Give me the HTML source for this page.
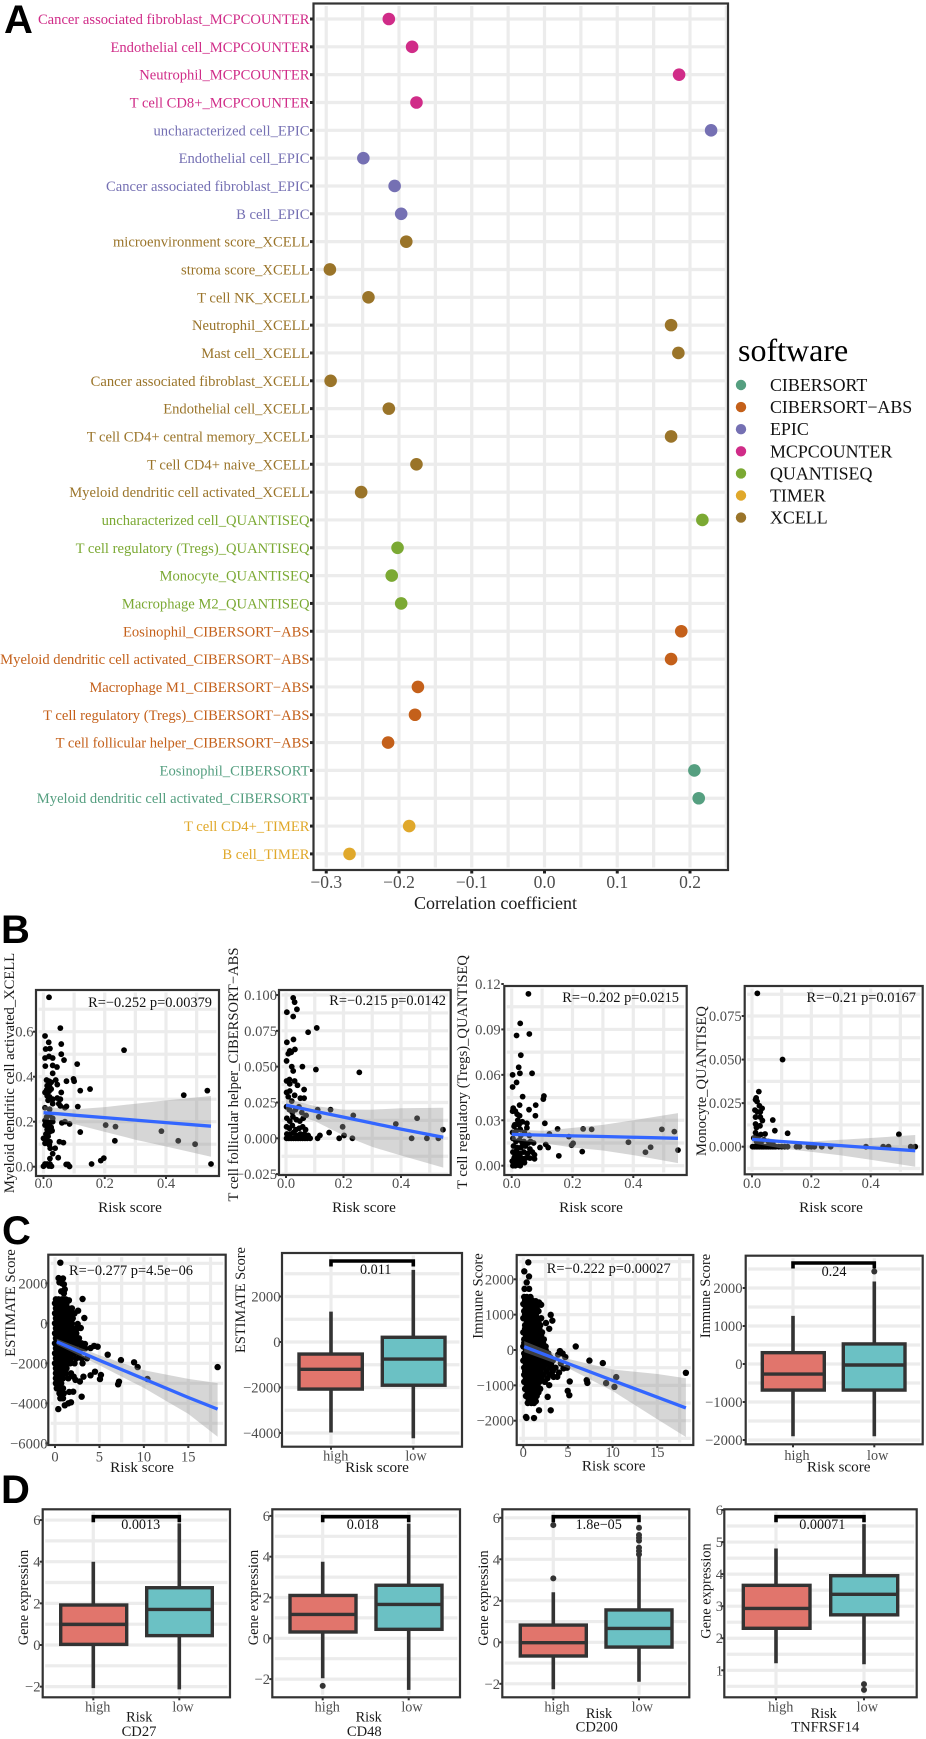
<!DOCTYPE html>
<html lang="en">
<head>
<meta charset="utf-8">
<title>Immune correlation figure</title>
<style>
html,body{margin:0;padding:0;background:#fff;}
svg{display:block;font-family:"Liberation Serif",serif;}
</style>
</head>
<body>
<svg id="fig" xmlns="http://www.w3.org/2000/svg" width="926" height="1739" viewBox="0 0 926 1739">
<rect width="926" height="1739" fill="#fff"/>
<text x="4" y="33" font-family="Liberation Sans, sans-serif" font-weight="700" font-size="40">A</text>
<text x="1" y="943" font-family="Liberation Sans, sans-serif" font-weight="700" font-size="40">B</text>
<text x="2" y="1244" font-family="Liberation Sans, sans-serif" font-weight="700" font-size="40">C</text>
<text x="1" y="1503" font-family="Liberation Sans, sans-serif" font-weight="700" font-size="40">D</text>
</svg>
<script>
/* ---------- Panel A data ---------- */
const softwareNames = ['CIBERSORT','CIBERSORT−ABS','EPIC','MCPCOUNTER','QUANTISEQ','TIMER','XCELL'];
const softwareColors = ['#559f80','#c4601a','#7570b3','#d02c88','#7ba933','#e0a82b','#9a7429'];
const cellLabels = [
'Cancer associated fibroblast_MCPCOUNTER','Endothelial cell_MCPCOUNTER','Neutrophil_MCPCOUNTER','T cell CD8+_MCPCOUNTER',
'uncharacterized cell_EPIC','Endothelial cell_EPIC','Cancer associated fibroblast_EPIC','B cell_EPIC',
'microenvironment score_XCELL','stroma score_XCELL','T cell NK_XCELL','Neutrophil_XCELL','Mast cell_XCELL',
'Cancer associated fibroblast_XCELL','Endothelial cell_XCELL','T cell CD4+ central memory_XCELL','T cell CD4+ naive_XCELL',
'Myeloid dendritic cell activated_XCELL','uncharacterized cell_QUANTISEQ','T cell regulatory (Tregs)_QUANTISEQ','Monocyte_QUANTISEQ',
'Macrophage M2_QUANTISEQ','Eosinophil_CIBERSORT−ABS','Myeloid dendritic cell activated_CIBERSORT−ABS','Macrophage M1_CIBERSORT−ABS',
'T cell regulatory (Tregs)_CIBERSORT−ABS','T cell follicular helper_CIBERSORT−ABS','Eosinophil_CIBERSORT',
'Myeloid dendritic cell activated_CIBERSORT','T cell CD4+_TIMER','B cell_TIMER'];
const cellSoftware = [3,3,3,3,2,2,2,2,6,6,6,6,6,6,6,6,6,6,4,4,4,4,1,1,1,1,1,0,0,5,5];
const cellCorrelation = [-0.214,-0.182,0.185,-0.176,0.229,-0.249,-0.206,-0.197,-0.19,-0.295,-0.242,0.174,0.184,-0.294,-0.214,0.174,-0.176,-0.252,0.217,-0.202,-0.21,-0.197,0.188,0.174,-0.174,-0.178,-0.215,0.206,0.212,-0.186,-0.268];
const corrTicks = [-0.3,-0.2,-0.1,0,0.1,0.2];

/* ---------- Panel B data ---------- */
const myeloidPoints = [[.018,.753],[.055,.616],[.005,.581],[.017,.553],[.058,.545],[.007,.523],[.021,.525],[.058,.5],[.005,.483],[.018,.49],[.03,.483],[.067,.474],[.11,.456],[.006,.447],[.03,.45],[.044,.443],[.03,.415],[.263,.518],[.098,.39],[.1,.38],[.075,.38],[.12,.338],[.152,.345],[.458,.318],[.535,.338],[.01,.385],[.018,.38],[.025,.375],[.04,.385],[.045,.365],[.012,.36],[.02,.355],[.01,.34],[.018,.335],[.025,.345],[.005,.33],[.058,.33],[.012,.315],[.02,.31],[.015,.295],[.03,.3],[.045,.305],[.055,.3],[.03,.28],[.05,.28],[.055,.27],[.005,.262],[.075,.268],[.112,.267],[.07,.262],[.02,.255],[.005,.205],[.012,.2],[.02,.195],[.03,.2],[.005,.185],[.015,.18],[.025,.175],[.06,.195],[.07,.2],[.085,.19],[.203,.185],[.235,.178],[.385,.158],[.44,.115],[.495,.1],[.233,.115],[.12,.154],[.02,.155],[.015,.135],[0,.126],[.01,.119],[.021,.111],[.005,.104],[.019,.097],[.022,.082],[.052,.111],[.065,.107],[.038,.082],[.03,.058],[.021,.036],[.048,.04],[.005,.012],[.021,.012],[.026,.002],[0,.002],[.074,.01],[.085,.001],[.08,.01],[.157,.012],[.187,.027],[.197,.038],[.547,.012],[.01,.22],[.02,.23],[.03,.215],[.012,.165],[.028,.16],[.008,.145],[.012,.012],[.018,.003]];
const tfhPoints = [[.025,.098],[.03,.095],[.038,.09],[.003,.088],[.025,.085],[.077,.074],[.107,.077],[.026,.069],[.003,.067],[.013,.061],[.008,.059],[.031,.062],[.002,.054],[.018,.06],[.057,.05],[.02,.05],[.025,.047],[.104,.048],[.255,.046],[.012,.041],[.002,.04],[.013,.038],[.03,.04],[.04,.037],[.063,.034],[.013,.033],[.002,.032],[.03,.03],[.02,.026],[.008,.029],[.05,.028],[.063,.028],[.11,.02],[.155,.02],[.234,.016],[.456,.014],[.382,.01],[.114,.015],[.197,.008],[.546,.006],[.437,0],[.49,0],[.53,0],[.202,.002],[.185,0],[.231,0],[.15,.004],[.118,.002],[.11,0],[.077,.002],[.002,.022],[.012,.02],[.022,.018],[.033,.02],[.045,.022],[.055,.018],[.003,.014],[.013,.012],[.024,.015],[.036,.013],[.048,.012],[.06,.014],[.07,.016],[.002,.008],[.012,.007],[.022,.009],[.034,.006],[.046,.007],[.058,.008],[.068,.006],[.003,.003],[.014,.003],[.026,.004],[.038,.002],[.05,.003],[.064,.003],[.002,0],[.01,0],[.018,0],[.026,0],[.034,0],[.042,0],[.05,0],[.058,0],[.066,0],[.074,0],[.084,0]];
const tregPoints = [[.055,.1135],[.028,.094],[.016,.086],[.058,.087],[.03,.073],[.023,.065],[.027,.061],[.003,.06],[.067,.061],[.016,.055],[.003,.052],[.036,.0456],[.106,.046],[.104,.044],[.026,.04],[.079,.04],[.057,.037],[.005,.038],[.012,.036],[.018,.034],[.003,.036],[.026,.033],[.078,.033],[.02,.03],[.035,.029],[.05,.028],[.008,.026],[.024,.027],[.109,.028],[.151,.0243],[.235,.0243],[.263,.024],[.494,.024],[.535,.0225],[.124,.021],[.188,.0192],[.202,.0148],[.197,.0135],[.112,.014],[.12,.012],[.384,.0155],[.457,.0122],[.44,.0089],[.547,.0103],[.232,.0093],[.155,.0065],[.093,.012],[.075,.0072],[.075,.0045],[.003,.022],[.015,.023],[.028,.024],[.042,.022],[.058,.02],[.004,.018],[.014,.016],[.026,.017],[.04,.016],[.062,.016],[.072,.015],[.006,.013],[.018,.012],[.03,.012],[.045,.013],[.06,.011],[.004,.009],[.015,.008],[.028,.008],[.04,.009],[.052,.008],[.068,.009],[.008,.005],[.02,.005],[.033,.005],[.046,.005],[.002,.003],[.012,.002],[.024,.002],[.036,.003],[.004,0],[.012,0],[.02,.0005],[.028,0],[.01,.027],[.03,.02],[.05,.025],[.016,.01],[.035,.015],[.055,.015],[.01,.006],[.024,.006],[.042,.002],[.06,.005]];
const monocytePoints = [[.018,.088],[.103,.05],[.023,.0316],[.014,.028],[.012,.027],[.017,.026],[.025,.0235],[.07,.0153],[.01,.021],[.018,.02],[.028,.02],[.034,.022],[.012,.017],[.028,.017],[.035,.015],[.012,.013],[.015,.011],[.027,.012],[.077,.0092],[.12,.0077],[.495,.0071],[.044,.0073],[.03,.007],[.012,.008],[.022,.006],[.006,.005],[.04,.004],[.055,.003],[.07,.002],[.015,.003],[.03,.002],[.002,0],[.008,0],[.014,0],[.02,0],[.026,0],[.032,0],[.038,0],[.044,0],[.05,0],[.056,0],[.062,0],[.068,0],[.074,0],[.08,0],[.09,0],[.1,0],[.11,0],[.12,0],[.15,0],[.16,0],[.19,0],[.2,0],[.21,0],[.235,0],[.265,0],[.384,0],[.442,0],[.46,0],[.535,0],[.55,0]];
const myeloidFitX=[0,.05,.1,.2,.3,.4,.547], myeloidFit=[.24,.235,.229,.218,.207,.196,.18], myeloidLow=[.21,.205,.19,.155,.12,.09,.044], myeloidHigh=[.27,.26,.255,.265,.28,.295,.314];
const tfhFitX=[0,.1,.2,.3,.4,.547], tfhFit=[.0232,.0189,.0148,.0106,.0064,.0007], tfhLow=[.019,.012,.002,-.006,-.012,-.0205], tfhHigh=[.0275,.0225,.02,.02,.021,.0213];
const tregFitX=[0,.1,.2,.3,.4,.547], tregFit=[.0207,.0202,.0197,.0193,.0188,.0181], tregLow=[.017,.015,.012,.01,.007,.0017], tregHigh=[.024,.023,.025,.027,.03,.0347];
const monoFitX=[0,.1,.2,.3,.4,.55], monoFit=[.0042,.003,.0018,.0006,-.0006,-.0023], monoLow=[.002,-.001,-.003,-.005,-.0075,-.0115], monoHigh=[.0065,.0035,.003,.004,.005,.0067];

/* ---------- Panel C data ---------- */
const estimatePoints = [[.6,3030],[.4,2260],[.7,2200],[.9,2240],[.5,2050],[1,1950],[.8,2000],[1.1,1700],[.7,1600],[1,1500],[.1,1200],[.4,1200],[.8,1200],[1.2,1200],[1.57,1150],[3.1,1215],[0,1000],[.3,1000],[.6,1000],[.9,1000],[1.3,1000],[.1,750],[.4,750],[.8,750],[1.1,750],[1.5,750],[1.9,750],[0,500],[.3,500],[.7,500],[1,500],[1.4,500],[1.8,500],[2.2,500],[2.6,630],[3.3,265],[2.55,-35],[2.9,-235],[.1,250],[.5,250],[.9,250],[1.3,250],[1.7,250],[2,250],[0,0],[.3,0],[.7,0],[1.1,0],[1.5,0],[1.9,0],[.1,-250],[.5,-250],[.9,-250],[1.3,-250],[1.7,-250],[2.1,-250],[2.5,-250],[0,-500],[.3,-500],[.7,-500],[1.1,-500],[1.5,-500],[2,-500],[2.4,-500],[.1,-750],[.5,-750],[.9,-750],[1.3,-750],[1.7,-750],[2.2,-750],[2.7,-750],[0,-1000],[.4,-1000],[.8,-1000],[1.2,-1000],[1.6,-1000],[2,-1000],[2.5,-1000],[3,-1000],[.1,-1250],[.5,-1250],[.9,-1250],[1.3,-1250],[1.8,-1250],[2.3,-1250],[2.9,-1250],[3.4,-1250],[0,-1500],[.3,-1500],[.7,-1500],[1.1,-1500],[1.6,-1500],[2.1,-1500],[2.7,-1500],[.1,-1750],[.5,-1750],[.9,-1750],[1.3,-1750],[1.8,-1750],[2.4,-1750],[3,-1750],[3.6,-1750],[0,-2000],[.4,-2000],[.8,-2000],[1.2,-2000],[1.7,-2000],[2.2,-2000],[3.1,-2000],[.1,-2250],[.5,-2250],[.9,-2250],[1.3,-2250],[.1,-2500],[.4,-2500],[.8,-2500],[1.2,-2500],[1.8,-2500],[.1,-2750],[.5,-2750],[.9,-2750],[1.5,-2750],[.1,-3000],[.4,-3000],[.7,-3000],[.2,-3250],[.6,-3250],[.9,-3250],[.5,-3500],[.8,-3500],[1,-3500],[.6,-3750],[.9,-3750],[3.37,-1035],[4.8,-1170],[4,-1240],[4.4,-1130],[5.93,-1570],[7.42,-1840],[8.9,-1950],[9.3,-2190],[18.3,-2190],[10.4,-2785],[7.2,-2920],[7.1,-3050],[5.17,-2585],[5.06,-2790],[4.5,-2420],[4,-2600],[3.2,-2670],[3,-3670],[2.8,-2910],[2.1,-2670],[2.3,-2830],[1.5,-4000],[1.8,-3950],[1.1,-4100],[.37,-4290],[2.05,-3420],[1.6,-3430]];
const immunePoints = [[.56,2480],[.11,2225],[.64,2080],[.38,1910],[.14,1730],[.65,1730],[3.07,995],[3.25,830],[2.54,765],[2.9,600],[5.87,100],[.1,1500],[.4,1500],[.8,1500],[.2,1400],[.6,1400],[1,1400],[1.4,1380],[0,1300],[.3,1300],[.7,1300],[1.2,1300],[1.76,1345],[2,1280],[.1,1100],[.5,1100],[.9,1100],[1.3,1100],[1.7,1100],[0,900],[.4,900],[.8,900],[1.2,900],[1.6,900],[2,900],[.2,700],[.6,700],[1,700],[1.4,700],[1.9,700],[0,500],[.4,500],[.8,500],[1.2,500],[1.6,500],[2.1,500],[.1,300],[.5,300],[.9,300],[1.3,300],[1.8,300],[2.3,300],[0,100],[.3,100],[.7,100],[1.1,100],[1.5,100],[2,100],[2.5,100],[.1,-100],[.5,-100],[.9,-100],[1.3,-100],[1.7,-100],[2.2,-100],[2.8,-100],[0,-300],[.4,-300],[.8,-300],[1.2,-300],[1.6,-300],[2.1,-300],[2.7,-300],[3.3,-300],[.1,-500],[.5,-500],[.9,-500],[1.3,-500],[1.7,-500],[2.3,-500],[3,-500],[3.6,-500],[.1,-700],[.4,-700],[.8,-700],[1.2,-700],[1.6,-700],[2.2,-700],[2.9,-700],[.1,-900],[.5,-900],[.9,-900],[1.3,-900],[1.8,-900],[2.4,-900],[.2,-1100],[.6,-1100],[1,-1100],[1.4,-1100],[1.9,-1100],[.3,-1300],[.7,-1300],[1.1,-1300],[1.5,-1300],[.5,-1500],[.9,-1500],[1.2,-1500],[4.1,-30],[7.4,-300],[8.9,-370],[18.2,-645],[10.4,-767],[7.1,-852],[7.17,-930],[9.27,-937],[10.2,-1042],[5.2,-890],[4.97,-1157],[5.15,-1278],[2.73,-1326],[3.07,-1705],[1.76,-1705],[1.2,-1924],[.3,-1895],[.36,-1920],[3.8,-758],[2.9,-994],[4.4,-100],[4.7,-200],[3.9,-130],[4.2,-380],[4.9,-500],[4.5,-520],[4,-640],[3.4,-760],[.3,1200],[.7,1200],[1.1,1200],[1.5,1190],[.2,1000],[.6,1000],[1,1000],[1.4,1000],[.4,800],[.8,800],[1.2,800],[1.7,800],[.2,600],[.6,600],[1,600],[1.4,600],[1.8,600],[.3,400],[.7,400],[1.1,400],[1.5,400],[2,400],[.1,200],[.5,200],[.9,200],[1.3,200],[1.7,200],[2.2,200],[.3,0],[.7,0],[1.1,0],[1.5,0],[2,0],[2.5,0],[.2,-200],[.6,-200],[1,-200],[1.4,-200],[1.9,-200],[2.4,-200],[3,-200],[.3,-400],[.7,-400],[1.1,-400],[1.5,-400],[2,-400],[2.5,-400],[3.1,-400],[.2,-600],[.6,-600],[1,-600],[1.4,-600],[1.9,-600],[2.6,-600],[3.3,-600],[.3,-800],[.7,-800],[1.1,-800],[1.5,-800],[2,-800],[2.7,-800],[.4,-1000],[.8,-1000],[1.2,-1000],[1.6,-1000],[.5,-1200],[.9,-1200],[1.3,-1200],[1.7,-1200],[.6,-1400],[1,-1400],[1.4,-1450]];
const estimateFitX=[.2,5,10,15,18.3], estimateFit=[-920,-1850,-2780,-3710,-4290], estimateLow=[-1070,-2100,-3230,-4530,-5670], estimateHigh=[-770,-1600,-2350,-2780,-2990];
const immuneFitX=[.1,5,10,15,18.2], immuneFit=[94,-382,-860,-1335,-1640], immuneLow=[-60,-510,-1160,-1960,-2460], immuneHigh=[250,-250,-550,-680,-800];
/* box stats: [whisker low, q1, median, q3, whisker high] */
const estimateHighBox=[-3980,-2070,-1200,-530,1335], estimateLowBox=[-4230,-1900,-750,207,3170];
const immuneHighBox=[-1900,-686,-264,298,1266], immuneLowBox=[-1900,-686,-26,528,2170];
const immuneLowOutliers=[2435];

/* ---------- Panel D data ---------- */
const cd27HighBox=[-2.07,.03,.99,1.92,4], cd27LowBox=[-2.13,.45,1.71,2.75,5.84];
const cd48HighBox=[-1.96,.31,1.17,2.1,3.75], cd48LowBox=[-2.53,.44,1.66,2.6,5.62];
const cd48HighOutliers=[-2.33];
const cd200HighBox=[-2.26,-.66,-.02,.83,2.41], cd200LowBox=[-1.9,-.23,.67,1.56,4.13];
const cd200HighOutliers=[5.65,3.08], cd200LowOutliers=[5.52,5.17,5.04,4.9,4.56,4.4,4.24];
const tnfHighBox=[1.22,2.31,2.93,3.65,4.8], tnfLowBox=[1.19,2.73,3.37,3.95,5.56];
const tnfLowOutliers=[.57,.39];

/* ---------- helpers ---------- */
const svg = document.getElementById('fig');
const NS = 'http://www.w3.org/2000/svg';
function add(tag, attrs, parent){
  const n = document.createElementNS(NS, tag);
  for (const k in attrs) n.setAttribute(k, attrs[k]);
  parent.appendChild(n);
  return n;
}
function linear(d0,d1,r0,r1){ return v => r0 + (v-d0)*(r1-r0)/(d1-d0); }
function label(parent, x, y, str, size, fill, anchor, rot){
  const attrs = {x:x, y:y, 'font-size':size, fill:fill, 'text-anchor':anchor||'middle'};
  if (rot) attrs.transform = 'rotate(-90 '+x+' '+y+')';
  const t = add('text', attrs, parent);
  t.textContent = str;
  return t;
}
const GRID='#ececec', FRAME='#333', TICKTXT='#4d4d4d', TXT='#1a1a1a';
function seq(a,b,s){ const o=[]; const n=Math.round((b-a)/s); for(let i=0;i<=n;i++) o.push(a+i*s); return o; }

function drawFrame(g,f){
  const r = add('rect',{x:f.l,y:f.t,width:f.r-f.l,height:f.b-f.t,fill:'none',stroke:FRAME,'stroke-width':2.2},g);
  
  
}
function drawGrid(g,f,xs,ys,sx,sy){
  const inset=2.5;
  xs.forEach(v=>{
    const l=add('line',{x1:sx(v),x2:sx(v),y1:f.t+inset,y2:f.b-inset,stroke:GRID,'stroke-width':3.2},g);
    
    
  });
  ys.forEach(v=>{
    const l=add('line',{x1:f.l+inset,x2:f.r-inset,y1:sy(v),y2:sy(v),stroke:GRID,'stroke-width':3.2},g);
    
    
  });
}
function yTicks(g,f,vals,fmt,sy,anchorX,size){
  vals.forEach(v=>{
    const m=add('rect',{x:f.l-3,y:sy(v)-1,width:2.5,height:2,fill:'#333'},g);
    
    
    const t=label(g,anchorX,sy(v)+5,fmt(v),size||14.6,TICKTXT,'end');
    
    
  });
}
function minus(s){ return String(s).replace('-','−'); }

/* ---------- Panel A ---------- */
(function(){
  const g=add('g',{},svg);
  
  
  const f={l:313.5,r:728,t:3.5,b:870};
  const sx=linear(0,0.2,544.5,690);
  const sy=i=>19+i*27.83;
  drawGrid(g,f,seq(-.3,.25,.05),cellLabels.map((_,i)=>i),sx,sy);
  cellLabels.forEach((name,i)=>{
    const c=softwareColors[cellSoftware[i]];
    const m=add('rect',{x:f.l-3.5,y:sy(i)-1.5,width:3,height:3,fill:'#222'},g);
    
    
    const t=label(g,309.5,sy(i)+5,name,14.6,c,'end');
    
    
    const p=add('circle',{cx:sx(cellCorrelation[i]),cy:sy(i),r:6.3,fill:c},g);
    
    
  });
  drawFrame(g,f);
  corrTicks.forEach(v=>{
    const m=add('rect',{x:sx(v)-1.5,y:f.b+.5,width:3,height:3,fill:'#222'},g);
    
    
    const t=label(g,sx(v),888,minus(v.toFixed(1)),17.5,TICKTXT);
    
    
  });
  const xt=label(g,495.5,909,'Correlation coefficient',18,TXT);
  
  
  const lg=add('g',{},svg);
  
  
  const lt=label(lg,738,361,'software',32,'#000','start');
  
  
  softwareNames.forEach((n,i)=>{
    const y=385+i*22.1;
    const d=add('circle',{cx:741,cy:y,r:5.2,fill:softwareColors[i]},lg);
    
    
    const t=label(lg,770,y+6,n,17.9,'#111','start');
    
    
  });
})();

/* ---------- scatter panels ---------- */
function scatter(o){
  const g=add('g',{},svg);
  
  
  const f=o.frame;
  drawGrid(g,f,o.xGrid,o.yGrid,o.sx,o.sy);
  o.points.forEach(p=>{
    const c=add('circle',{cx:o.sx(p[0]),cy:o.sy(p[1]),r:o.pr,fill:'#000'},g);
    
    
  });
  const up=o.fitX.map((x,i)=>o.sx(x)+','+o.sy(o.high[i]));
  const lo=o.fitX.map((x,i)=>o.sx(x)+','+o.sy(o.low[i])).reverse();
  const band=add('polygon',{points:up.concat(lo).join(' '),fill:'#999','fill-opacity':.4},g);
  
  
  const fit=add('polyline',{points:o.fitX.map((x,i)=>o.sx(x)+','+o.sy(o.fit[i])).join(' '),fill:'none',stroke:'#3366ff','stroke-width':3.3},g);
  
  
  drawFrame(g,f);
  yTicks(g,f,o.yTicks,o.yFmt,o.sy,o.yAnchor);
  o.xTicks.forEach(v=>{
    const m=add('rect',{x:o.sx(v)-1,y:f.b+.5,width:2,height:2.5,fill:'#333'},g);
    
    
    const t=label(g,o.sx(v),o.xBase,o.xFmt(v),14.5,TICKTXT);
    
    
  });
  const xt=label(g,o.xTitleX,o.xTitleY,'Risk score',15.2,TXT);
  
  
  const yt=label(g,o.yTitleX,o.yTitleY,o.yTitle,o.yTitleSize||14.6,TXT,'middle',true);
  
  
  const st=label(g,o.statX,o.statY,o.stat,14.4,'#111','end');
  
  
}
const f1=v=>v.toFixed(1), f2=v=>v.toFixed(2), f3=v=>minus(v.toFixed(3)), f0=v=>minus(v.toFixed(0));
scatter({frame:{l:36,r:219,t:990,b:1176},sx:linear(0,.4,43.5,166),sy:linear(0,.6,1166.7,1031.7),
  xGrid:seq(0,.5,.1),yGrid:seq(0,.7,.1),points:myeloidPoints,pr:2.9,fitX:myeloidFitX,fit:myeloidFit,low:myeloidLow,high:myeloidHigh,
  yTicks:[0,.2,.4,.6],yFmt:f1,yAnchor:33.5,xTicks:[0,.2,.4],xFmt:f1,xBase:1188,xTitleX:130,xTitleY:1212,
  yTitle:'Myeloid dendritic cell activated_XCELL',yTitleX:14,yTitleY:1073,stat:'R=−0.252 p=0.00379',statX:212,statY:1007});
scatter({frame:{l:279,r:450.7,t:990,b:1175},sx:linear(0,.4,286,401),sy:linear(0,.1,1138.3,995),
  xGrid:seq(0,.5,.1),yGrid:seq(-.025,.1,.0125),points:tfhPoints,pr:2.9,fitX:tfhFitX,fit:tfhFit,low:tfhLow,high:tfhHigh,
  yTicks:[-.025,0,.025,.05,.075,.1],yFmt:f3,yAnchor:277,xTicks:[0,.2,.4],xFmt:f1,xBase:1188,xTitleX:364,xTitleY:1212,
  yTitle:'T cell follicular helper_CIBERSORT−ABS',yTitleX:238,yTitleY:1074.5,stat:'R=−0.215 p=0.0142',statX:446,statY:1005});
scatter({frame:{l:504.3,r:686.7,t:986,b:1175},sx:linear(0,.4,511.7,633.3),sy:linear(0,.12,1165.7,984),
  xGrid:seq(0,.5,.1),yGrid:seq(0,.105,.015),points:tregPoints,pr:2.9,fitX:tregFitX,fit:tregFit,low:tregLow,high:tregHigh,
  yTicks:[0,.03,.06,.09,.12],yFmt:f2,yAnchor:500.7,xTicks:[0,.2,.4],xFmt:f1,xBase:1188,xTitleX:591,xTitleY:1212,
  yTitle:'T cell regulatory (Tregs)_QUANTISEQ',yTitleX:467,yTitleY:1072,stat:'R=−0.202 p=0.0215',statX:679,statY:1002});
scatter({frame:{l:744.7,r:922.7,t:986,b:1174.3},sx:linear(0,.4,752,870.7),sy:linear(0,.075,1146.7,1016),
  xGrid:seq(0,.5,.1),yGrid:seq(-.0125,.0875,.0125),points:monocytePoints,pr:2.9,fitX:monoFitX,fit:monoFit,low:monoLow,high:monoHigh,
  yTicks:[0,.025,.05,.075],yFmt:f3,yAnchor:741.7,xTicks:[0,.2,.4],xFmt:f1,xBase:1188,xTitleX:831,xTitleY:1212,
  yTitle:'Monocyte_QUANTISEQ',yTitleX:706,yTitleY:1081,stat:'R=−0.21 p=0.0167',statX:916,statY:1002});
scatter({frame:{l:48.3,r:225.7,t:1254.7,b:1445},sx:linear(0,15,55,188.3),sy:linear(0,-4000,1323.3,1403.3),
  xGrid:seq(0,17.5,2.5),yGrid:seq(-5000,3000,1000),points:estimatePoints,pr:3.2,fitX:estimateFitX,fit:estimateFit,low:estimateLow,high:estimateHigh,
  yTicks:[-6000,-4000,-2000,0,2000],yFmt:f0,yAnchor:47.5,xTicks:[0,5,10,15],xFmt:f0,xBase:1461.5,xTitleX:142,xTitleY:1472,
  yTitle:'ESTIMATE Score',yTitleX:15,yTitleY:1303,stat:'R=−0.277 p=4.5e−06',statX:193,statY:1275});
scatter({frame:{l:516.7,r:693.3,t:1255,b:1445},sx:linear(0,15,523.3,657.3),sy:linear(0,-2000,1350,1420.7),
  xGrid:seq(0,17.5,2.5),yGrid:seq(-2500,2500,500),points:immunePoints,pr:3.2,fitX:immuneFitX,fit:immuneFit,low:immuneLow,high:immuneHigh,
  yTicks:[-2000,-1000,0,1000,2000],yFmt:f0,yAnchor:514,xTicks:[0,5,10,15],xFmt:f0,xBase:1457,xTitleX:613.7,xTitleY:1470.7,
  yTitle:'Immune Score',yTitleX:482.5,yTitleY:1296,stat:'R=−0.222 p=0.00027',statX:670.7,statY:1273});

/* ---------- box panels ---------- */
function boxPanel(o){
  const g=add('g',{},svg);
  
  
  const f=o.frame;
  drawGrid(g,f,o.cats,o.yGrid,v=>v,o.sy);
  [[o.highBox,o.highX,'#e1756c',o.highOut,'high',o.cats[0]],[o.lowBox,o.lowX,'#6bc1c4',o.lowOut,'low',o.cats[1]]].forEach(b=>{
    const s=b[0], x=b[1], cx=b[5];
    const wh=add('line',{x1:cx,x2:cx,y1:o.sy(s[0]),y2:o.sy(s[4]),stroke:'#333','stroke-width':3.6},g);
    
    
    const r=add('rect',{x:x[0],y:o.sy(s[3]),width:x[1]-x[0],height:o.sy(s[1])-o.sy(s[3]),fill:b[2],stroke:'#333','stroke-width':3.4},g);
    
    
    const m=add('line',{x1:x[0],x2:x[1],y1:o.sy(s[2]),y2:o.sy(s[2]),stroke:'#333','stroke-width':3.4},g);
    
    
    (b[3]||[]).forEach(v=>{
      const c=add('circle',{cx:cx,cy:o.sy(v),r:3,fill:'#333'},g);
      
      
    });
  });
  const by=o.bracketY, e=by+5.5;
  const br=add('path',{d:'M'+o.cats[0]+' '+e+'V'+by+'H'+o.cats[1]+'V'+e,fill:'none',stroke:'#000','stroke-width':3.6},g);
  
  
  const pv=label(g,o.pX,o.pY,o.pText,14.2,'#111');
  
  
  drawFrame(g,f);
  yTicks(g,f,o.yTicks,f0,o.sy,o.yAnchor);
  o.cats.forEach(c=>{
    const m=add('rect',{x:c-1,y:f.b+.5,width:2,height:2.5,fill:'#333'},g);
    
    
  });
  const hl=label(g,o.highLabelX,o.catBase,'high',14.2,TICKTXT);
  
  
  const ll=label(g,o.lowLabelX,o.catBase,'low',14.2,TICKTXT);
  
  
  const xt=label(g,o.xTitleX,o.xTitleY,o.xTitle,o.xTitleSize,TXT);
  
  
  if(o.gene){
    const gt=label(g,o.geneX,o.geneY,o.gene,14.6,TXT);
    
    
  }
  const yt=label(g,o.yTitleX,o.yTitleY,o.yTitle,14.4,TXT,'middle',true);
  
  
}
boxPanel({frame:{l:282,r:462,t:1253,b:1446.7},sy:linear(0,-4000,1342,1433),cats:[331,413.3],yGrid:seq(-4000,3000,1000),
  highBox:estimateHighBox,lowBox:estimateLowBox,highX:[299,362.3],lowX:[382.3,445],
  bracketY:1261,pX:375.7,pY:1274,pText:'0.011',yTicks:[-4000,-2000,0,2000],yAnchor:280.5,
  highLabelX:335.7,lowLabelX:416,catBase:1460.7,xTitle:'Risk score',xTitleX:377,xTitleY:1472,xTitleSize:15.2,yTitle:'ESTIMATE Score',yTitleX:245,yTitleY:1300});
boxPanel({frame:{l:745.7,r:922.7,t:1255.7,b:1444.3},sy:linear(0,-2000,1364,1440),cats:[793,874.3],yGrid:seq(-2000,2500,500),
  highBox:immuneHighBox,lowBox:immuneLowBox,highX:[762.3,824.3],lowX:[843.3,905],lowOut:immuneLowOutliers,
  bracketY:1263,pX:834,pY:1276,pText:'0.24',yTicks:[-2000,-1000,0,1000,2000],yAnchor:742.5,
  highLabelX:797,lowLabelX:877.7,catBase:1460,xTitle:'Risk score',xTitleX:838.7,xTitleY:1471.7,xTitleSize:15.2,yTitle:'Immune Score',yTitleX:710,yTitleY:1296});
boxPanel({frame:{l:42.7,r:230,t:1509.3,b:1697.3},sy:linear(0,4,1645,1561.7),cats:[93.3,179.3],yGrid:seq(-2,6,1),
  highBox:cd27HighBox,lowBox:cd27LowBox,highX:[60.7,126.7],lowX:[146.7,212.3],
  bracketY:1516.7,pX:140.7,pY:1529,pText:'0.0013',yTicks:[-2,0,2,4,6],yAnchor:40.5,
  highLabelX:97.7,lowLabelX:183,catBase:1711.7,xTitle:'Risk',xTitleX:139.3,xTitleY:1721.3,xTitleSize:14.3,gene:'CD27',geneX:139,geneY:1736,yTitle:'Gene expression',yTitleX:28,yTitleY:1597.5});
boxPanel({frame:{l:272.3,r:460,t:1509.3,b:1697.3},sy:linear(0,4,1638.3,1556.7),cats:[322.7,408.7],yGrid:seq(-2,6,1),
  highBox:cd48HighBox,lowBox:cd48LowBox,highX:[290,356],lowX:[376,442],highOut:cd48HighOutliers,
  bracketY:1516.7,pX:362.7,pY:1529,pText:'0.018',yTicks:[-2,0,2,4,6],yAnchor:270,
  highLabelX:327.3,lowLabelX:412,catBase:1711.7,xTitle:'Risk',xTitleX:368.7,xTitleY:1721.3,xTitleSize:14.3,gene:'CD48',geneX:364.3,geneY:1736,yTitle:'Gene expression',yTitleX:258,yTitleY:1597.5});
boxPanel({frame:{l:502.3,r:689.3,t:1509.3,b:1697.3},sy:linear(0,4,1642.3,1559.3),cats:[553.3,639],yGrid:seq(-2,6,1),
  highBox:cd200HighBox,lowBox:cd200LowBox,highX:[520.3,586.3],lowX:[606,672],highOut:cd200HighOutliers,lowOut:cd200LowOutliers,
  bracketY:1516.7,pX:598.7,pY:1529,pText:'1.8e−05',yTicks:[-2,0,2,4,6],yAnchor:500,
  highLabelX:557,lowLabelX:642.3,catBase:1711.7,xTitle:'Risk',xTitleX:599,xTitleY:1718,xTitleSize:14.3,gene:'CD200',geneX:596.7,geneY:1731.7,yTitle:'Gene expression',yTitleX:488,yTitleY:1598});
boxPanel({frame:{l:724.3,r:916.7,t:1509.3,b:1697.3},sy:linear(1,6,1670.3,1510),cats:[776,864],yGrid:seq(.5,5.5,.5),
  highBox:tnfHighBox,lowBox:tnfLowBox,highX:[743.3,810],lowX:[830.7,897.7],lowOut:tnfLowOutliers,
  bracketY:1516.7,pX:822.3,pY:1529,pText:'0.00071',yTicks:[1,2,3,4,5,6],yAnchor:723,
  highLabelX:780.7,lowLabelX:867.3,catBase:1711.7,xTitle:'Risk',xTitleX:823.7,xTitleY:1718,xTitleSize:14.3,gene:'TNFRSF14',geneX:825.3,geneY:1731.7,yTitle:'Gene expression',yTitleX:710.7,yTitleY:1591});
</script>
</body>
</html>
